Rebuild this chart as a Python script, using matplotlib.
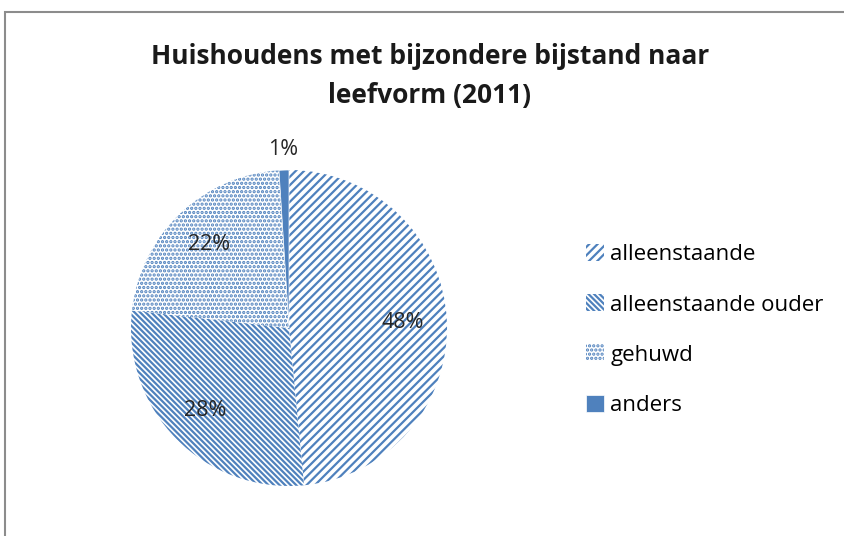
import numpy as np
import matplotlib.pyplot as plt
from matplotlib.patches import Rectangle

plt.rcParams['font.family'] = ['Open Sans', 'DejaVu Sans']
plt.rcParams['hatch.linewidth'] = 1.6

# data
labels = ["alleenstaande", "alleenstaande ouder", "gehuwd", "anders"]
values = [48, 28, 22, 1]
pct_labels = ["48%", "28%", "22%", "1%"]
hatches = ["////", "\\\\\\\\\\\\", "....", None]
blue = "#4F81BD"

fig = plt.figure(figsize=(8.44, 5.36), dpi=100)

# grey chart border (partly cut off at right/bottom)
fig.patches.append(Rectangle((5 / 844, -0.05), 1.2, (536 - 12) / 536 + 0.05,
                             transform=fig.transFigure, fill=False,
                             edgecolor="#8c8c8c", linewidth=1.5))

ax = fig.add_axes([(289 - 158) / 844, (208 - 158) / 536, 316 / 844, 316 / 536])
wedges, _ = ax.pie(values, startangle=90, counterclock=False, radius=1,
                   colors=["white", "white", "white", blue])
for w, h in zip(wedges, hatches):
    if h:
        w.set_hatch(h)
        w.set_edgecolor(blue)
        w.set_linewidth(0)
    else:
        w.set_edgecolor("white")
        w.set_linewidth(0.5)

total = sum(values)
dists = [0.72, 0.74, 0.73, 1.13]
start = 90
for v, lab, d in zip(values, pct_labels, dists):
    ang = np.deg2rad(start - v / total * 360 / 2)
    start -= v / total * 360
    ax.text(d * np.cos(ang), d * np.sin(ang), lab, ha="center", va="center",
            fontsize=15.5, color="#262626")

ax.set_xlim(-1, 1)
ax.set_ylim(-1, 1)
ax.set_aspect("equal")
ax.axis("off")

fig.text(430 / 844, 1 - 76 / 536, "Huishoudens met bijzondere bijstand naar\nleefvorm (2011)",
         ha="center", va="center", fontsize=19, fontweight="bold",
         linespacing=1.55, color="#1a1a1a")

fig.legend(wedges, labels, loc="center left", bbox_to_anchor=(566 / 844, 1 - 330 / 536),
           frameon=False, fontsize=16, labelspacing=1.3, handlelength=0.8,
           handleheight=0.8, handletextpad=0.3)

fig.savefig("out.png", dpi=100, facecolor="white")
